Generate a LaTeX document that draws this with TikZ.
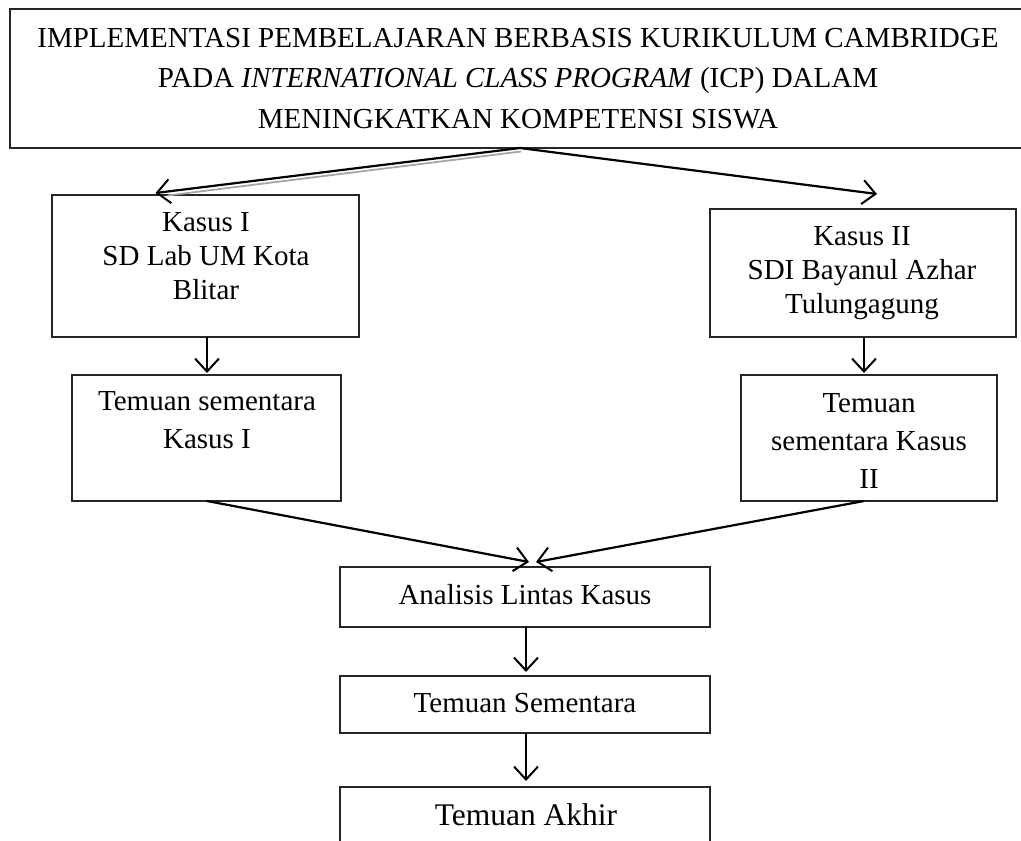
\documentclass[tikz,border=0pt]{standalone}
\usepackage{fontspec}
\setmainfont{Liberation Serif}
\usetikzlibrary{arrows.meta}
\begin{document}
\begin{tikzpicture}[x=1pt,y=-1pt,
  box/.style={draw=black!85, line width=1.5pt, inner sep=0pt, outer sep=0pt},
  txt/.style={align=center, inner sep=0pt, anchor=base, font=\fontsize{29}{34}\selectfont},
  conn/.style={line width=2.2pt, -{Straight Barb[length=13pt,width=24pt,line width=2pt]}},
]
\useasboundingbox (0,0) rectangle (1021,841);
\clip (0,0) rectangle (1021,841);
% boxes
\node[box, minimum width=1022pt, minimum height=139pt] (top) at (521,78.5) {};
\node[box, minimum width=307pt, minimum height=142pt] (k1) at (205.5,266) {};
\node[box, minimum width=269pt, minimum height=126pt] (t1) at (206.5,438) {};
\node[box, minimum width=306pt, minimum height=128pt] (k2) at (863,273) {};
\node[box, minimum width=256pt, minimum height=126pt] (t2) at (869,438) {};
\node[box, minimum width=370pt, minimum height=60pt] (an) at (525,597) {};
\node[box, minimum width=370pt, minimum height=57pt] (ts) at (525,704.5) {};
\node[box, minimum width=370pt, minimum height=63pt] (ak) at (525,818.5) {};
% texts (anchored at the baseline of their last line)
\node[txt, font=\fontsize{29}{40.5}\selectfont] (toptxt) at (518,128) {IMPLEMENTASI PEMBELAJARAN BERBASIS KURIKULUM CAMBRIDGE\\PADA \textit{INTERNATIONAL CLASS PROGRAM} (ICP) DALAM\\MENINGKATKAN KOMPETENSI SISWA};
\node[txt] (k1txt) at (206,299) {Kasus I\\SD Lab UM Kota\\Blitar};
\node[txt, font=\fontsize{29}{38}\selectfont] (t1txt) at (207,448) {Temuan sementara\\Kasus I};
\node[txt] (k2txt) at (862,313) {Kasus II\\SDI Bayanul Azhar\\Tulungagung};
\node[txt, font=\fontsize{29}{38}\selectfont] (t2txt) at (869,488) {Temuan\\sementara Kasus\\II};
\node[txt] (antxt) at (525,604) {Analisis Lintas Kasus};
\node[txt] (tstxt) at (525,712) {Temuan Sementara};
\node[txt, font=\fontsize{31.5}{38}\selectfont] (aktxt) at (526,825) {Temuan Akhir};
% connectors
\draw[gray!70, line width=1.8pt] ([yshift=-3.5pt]top.south) -- ([xshift=-38pt,yshift=-0.5pt]k1.north);
\draw[conn] ([xshift=-1pt]top.south) -- ([xshift=-50pt,yshift=2pt]k1.north);
\draw[conn] ([xshift=-1pt]top.south) -- ([xshift=14pt,yshift=15pt]k2.north);
\draw[conn, shorten >=2pt] ([xshift=1.5pt]k1.south) -- ([xshift=1.5pt]k1.south |- t1.north);
\draw[conn, shorten >=2pt] ([xshift=1pt]k2.south) -- ([xshift=1pt]k2.south |- t2.north);
\draw[conn] ([xshift=0.5pt]t1.south) -- ([xshift=4pt,yshift=5pt]an.north);
\draw[conn] ([xshift=-5pt]t2.south) -- ([xshift=11pt,yshift=5pt]an.north);
\draw[conn, shorten >=4pt] ([xshift=1pt]an.south) -- ([xshift=1pt]ts.north);
\draw[conn, shorten >=6pt] ([xshift=1pt]ts.south) -- ([xshift=1pt]ak.north);
\end{tikzpicture}
\end{document}
